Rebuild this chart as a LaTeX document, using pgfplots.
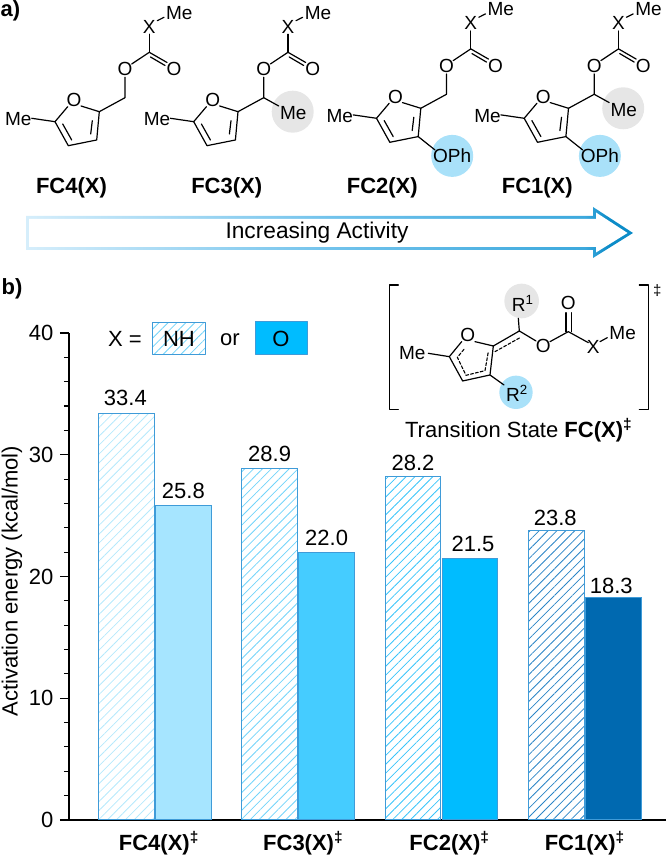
\documentclass[border=0pt]{standalone}
\usepackage{fontspec}
\setmainfont{Liberation Sans}
\usepackage{pgfplots}
\pgfplotsset{compat=1.18}
\usetikzlibrary{patterns.meta}

\definecolor{edge}{HTML}{3F9BD8}
\definecolor{fillA}{HTML}{A6E5FF}
\definecolor{fillB}{HTML}{45CCFF}
\definecolor{fillC}{HTML}{00BCFF}
\definecolor{fillD}{HTML}{0069B0}
\definecolor{hatchA}{HTML}{B5E9FC}
\definecolor{hatchB}{HTML}{72D4FA}
\definecolor{hatchC}{HTML}{38C4FA}
\definecolor{hatchD}{HTML}{2A84C6}
\definecolor{greycirc}{HTML}{E6E6E6}
\definecolor{bluecirc}{HTML}{A9E1F9}
\definecolor{arrA}{HTML}{D6EEFB}
\definecolor{arrB}{HTML}{72C3EC}
\definecolor{arrC}{HTML}{3DA9DD}
\definecolor{arrD}{HTML}{0C8CC8}

\pgfdeclarehorizontalshading{arrowgrad}{100bp}{
  color(0bp)=(arrA); color(25bp)=(arrA); color(50bp)=(arrB);
  color(71bp)=(arrC); color(73bp)=(arrD); color(75bp)=(arrD); color(100bp)=(arrD)}

\newcommand\fs{\fontsize{22}{25}\selectfont}
\newcommand\cs{\fontsize{19}{22}\selectfont}

% furan carbamate, in pixels of the FC4 structure
\newcommand\base[4]{%
\begin{scope}[shift={(#1,#2)}]
  \ifnum#3=1
    \fill[greycirc] (154,111.7) circle (21);
    \draw (125,97.7)--(140,106);
    \node[chem] at (154.5,113) {Me};
    \draw (99.3,111.7)--(125,97.7)--(125,77.3);
  \else
    \draw (99.3,111.7)--(125,97.7)--(125,77.3);
  \fi
  \ifnum#4=1
    \fill[bluecirc] (130.7,159.3) circle (21);
    \draw (96.7,140)--(113.4,153.3);
    \node[chem] at (130.7,159.3) {OPh};
  \fi
  \node[chem] at (18.3,119.3) {Me};
  \draw (31.7,118.3)--(55,121.7);
  \draw (67.7,106.7)--(55,121.7)--(68.3,145.7)--(96.7,140)--(99.3,111.7)--(81,106);
  \draw (92.3,120.7)--(90.7,134);
  \draw (71.7,140)--(62.7,124);
  \node[chem] at (74,100) {O};
  \node[chem] at (125,69.3) {O};
  \draw (131.7,64)--(149.3,52.3)--(167,62.5);
  \draw (150.5,57)--(165,65.5);
  \node[chem] at (174,69.3) {O};
  \draw (149.3,52.3)--(149.3,34.3);
  \node[chem] at (149.3,26.7) {X};
  \draw (157.3,20.7)--(164,17.3);
  \node[chem] at (179.3,12.7) {Me};
\end{scope}}

\begin{document}
\begin{tikzpicture}[x=1pt,y=1pt,chem/.style={inner sep=0pt,font=\cs},lab/.style={inner sep=0pt,font=\fs}]
\path[use as bounding box] (0,0) rectangle (666,856);

\begin{axis}[
  at={(69pt,36pt)}, anchor=south west,
  scale only axis, width=597pt, height=487pt,
  xmin=0.401, xmax=4.567, ymin=0, ymax=40,
  axis lines=left, axis line style={-, line width=1.2pt},
  ybar, bar width=55.5pt,
  xtick={1.028,2.035,3.056,4},
  xticklabels={\textbf{FC4(X)\textsuperscript{‡}},\textbf{FC3(X)\textsuperscript{‡}},\textbf{FC2(X)\textsuperscript{‡}},\textbf{FC1(X)\textsuperscript{‡}}},
  x tick style={draw=none},
  ytick={0,10,20,30,40}, minor y tick num=4,
  tick align=outside,
  major tick length=9pt, minor tick length=5pt,
  y tick style={black, line width=1.1pt},
  minor y tick style={black, line width=1.1pt},
  tick label style={font=\fs},
  /pgf/number format/assume math mode=true,
  x tick label style={yshift=1pt},
  y tick label style={xshift=-3pt},
  ylabel={Activation energy (kcal/mol)},
  every axis y label/.style={at={(-57pt,239pt)},rotate=90,anchor=center,font=\fs},
  nodes near coords, point meta=y,
  every node near coord/.append style={font=\fs, black, inner sep=0pt,
    /pgf/number format/fixed, /pgf/number format/fixed zerofill,
    /pgf/number format/precision=1, /pgf/number format/assume math mode=true},
]
\addplot[bar shift=-28.5pt, draw=edge, line width=1pt, pattern={Lines[angle=45,distance=6.3pt,line width=0.8pt]}, pattern color=hatchA, every node near coord/.append style={yshift=7.5pt,xshift=-1pt}] coordinates {(1,33.4)};
\addplot[bar shift=28.5pt, draw=edge, line width=1pt, fill=fillA, every node near coord/.append style={yshift=6.5pt}] coordinates {(1,25.8)};
\addplot[bar shift=-28.5pt, draw=edge, line width=1pt, pattern={Lines[angle=45,distance=6.3pt,line width=0.8pt]}, pattern color=hatchB, every node near coord/.append style={yshift=5.7pt}] coordinates {(2,28.9)};
\addplot[bar shift=28.5pt, draw=edge, line width=1pt, fill=fillB, every node near coord/.append style={yshift=5.7pt}] coordinates {(2,22.0)};
\addplot[bar shift=-28.5pt, draw=edge, line width=1pt, pattern={Lines[angle=45,distance=6.3pt,line width=0.8pt]}, pattern color=hatchC, every node near coord/.append style={yshift=5pt}] coordinates {(3,28.2)};
\addplot[bar shift=28.5pt, draw=edge, line width=1pt, fill=fillC, every node near coord/.append style={yshift=6pt,xshift=3pt}] coordinates {(3,21.5)};
\addplot[bar shift=-28.5pt, draw=edge, line width=1pt, pattern={Lines[angle=45,distance=6.3pt,line width=0.8pt]}, pattern color=hatchD, every node near coord/.append style={yshift=4pt,xshift=-1pt}] coordinates {(4,23.8)};
\addplot[bar shift=28.5pt, draw=edge, line width=1pt, fill=fillD, every node near coord/.append style={yshift=2.7pt,xshift=-2pt}] coordinates {(4,18.3)};
\end{axis}

\begin{scope}[yshift=856pt, y=-1pt, line width=1.2pt, line cap=round, line join=round]
  \node[lab,anchor=west,font=\fs\bfseries] at (0,11) {a)};
  \node[lab,anchor=west,font=\fs\bfseries] at (1,289) {b)};

  \base{0}{0}{0}{0}
  \base{138.7}{0}{1}{0}
  \base{321.5}{-3.4}{0}{1}
  \base{469.2}{-3.4}{1}{1}

  \node[lab,font=\fs\bfseries] at (71.5,188.3) {FC4(X)};
  \node[lab,font=\fs\bfseries] at (226.7,188.3) {FC3(X)};
  \node[lab,font=\fs\bfseries] at (382.3,188.3) {FC2(X)};
  \node[lab,font=\fs\bfseries] at (537.3,188.3) {FC1(X)};

  % activity arrow
  \shade[shading=arrowgrad] (26,216)--(593,216)--(593,207)--(633,233)--(593,258)--(593,250)--(26,250)--cycle;
  \fill[white] (29,219)--(596,219)--(596,212.5)--(627.5,233)--(596,252.5)--(596,247)--(29,247)--cycle;
  \node[lab,font=\fontsize{22.7}{25}\selectfont] at (317,233) {Increasing Activity};

  % X = NH or O key
  \node[lab] at (125,339.3) {X =};
  \fill[white] (152.3,322.3) rectangle (205.7,355);
  \draw[edge, line width=1pt, pattern={Lines[angle=45,distance=6.3pt,line width=0.8pt]}, pattern color=hatchB] (152.3,322.3) rectangle (205.7,355);
  \node[lab] at (179,339.3) {NH};
  \node[lab] at (230,339.3) {or};
  \draw[edge, line width=1pt, fill=fillC] (255.7,321.5) rectangle (307.3,354.5);
  \node[lab] at (281,339.3) {O};

  % transition state, offset to the panel
  \begin{scope}[shift={(380,270)}, x=0.3333pt, y=-0.3333pt]
    \draw (55,45)--(28,45)--(28,418)--(55,418);
    \draw (778,45)--(805,45)--(805,418)--(778,418);
    \node[chem] at (832,62) {\fontsize{15}{15}\selectfont ‡};
    \fill[greycirc] (425,93) circle (52);
    \fill[bluecirc] (408,367) circle (50);
    \node[chem] at (428,100) {R\textsuperscript{1}};
    \node[chem] at (411,370) {R\textsuperscript{2}};
    \draw (415,145)--(418,183);
    \node[chem] at (97,250) {Me};
    \draw (145,250)--(208,260);
    \draw (245,215)--(208,260)--(248,333)--(330,315)--(340,228)--(285,215);
    \node[chem] at (263,195) {O};
    \draw[densely dashed, line width=1.1pt] (252,238)--(232,262)--(258,316)--(315,302)--(325,245);
    \draw (340,228)--(418,183)--(468,213);
    \draw[densely dashed, line width=1.1pt] (345,245)--(422,202);
    \node[chem] at (490,228) {O};
    \draw (510,215)--(565,185)--(625,218);
    \draw (558,185)--(558,128);
    \draw (574,185)--(574,128);
    \node[chem] at (565,100) {O};
    \node[chem] at (640,232) {X};
    \draw (660,215)--(682,203);
    \node[chem] at (728,188) {Me};
    \draw (330,315)--(372,345);
    \node[lab] at (416,480) {Transition State \textbf{FC(X)\textsuperscript{‡}}};
  \end{scope}
\end{scope}
\end{tikzpicture}
\end{document}
